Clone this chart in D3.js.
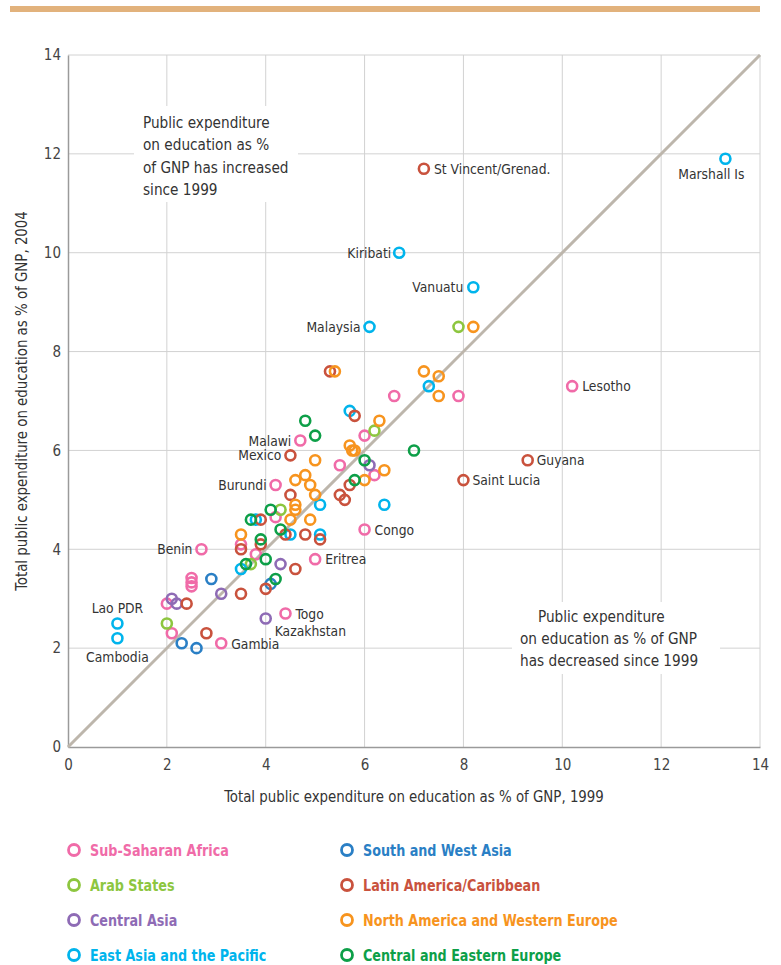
<!DOCTYPE html>
<html><head><meta charset="utf-8">
<script src="https://cdn.jsdelivr.net/npm/d3@7"></script>
<style>
body{margin:0;background:#fff;}
svg{display:block;}
text{font-family:"Liberation Sans Narrow","DejaVu Sans Condensed","Roboto Condensed",sans-serif;}
</style></head>
<body><svg id="c" width="781" height="965"></svg>
<script>
// ---- data ----
const regions = ["Sub-Saharan Africa","Arab States","Central Asia","East Asia and the Pacific",
  "South and West Asia","Latin America/Caribbean","North America and Western Europe","Central and Eastern Europe"];
const regionColors = ["#f06ba8","#8dc63f","#8e6bb5","#00b4ec","#2a7fc5","#c9523d","#f7941e","#0d9f48"];
const xTicks = [0,2,4,6,8,10,12,14];
const yTicks = [0,2,4,6,8,10,12,14];

// [x 1999, y 2004, label]
const subSaharanAfrica = [[10.2,7.3,"Lesotho"],[6.0,4.4,"Congo"],[5.0,3.8,"Eritrea"],[4.4,2.7,"Togo"],
  [3.1,2.1,"Gambia"],[2.7,4.0,"Benin"],[4.2,5.3,"Burundi"],[4.7,6.2,"Malawi"],
  [7.9,7.1],[6.6,7.1],[6.0,6.3],[5.5,5.7],[6.2,5.5],[4.2,4.65],[3.5,4.1],[3.8,3.9],
  [2.5,3.42],[2.5,3.33],[2.5,3.25],[2.0,2.9],[2.1,2.3]];
const arabStates = [[7.9,8.5],[6.2,6.4],[4.3,4.8],[3.7,3.7],[2.0,2.5]];
const centralAsia = [[4.0,2.6,"Kazakhstan"],[6.1,5.7],[4.3,3.7],[3.1,3.1],[2.1,3.0],[2.2,2.9]];
const eastAsiaPacific = [[13.3,11.9,"Marshall Is"],[6.7,10.0,"Kiribati"],[8.2,9.3,"Vanuatu"],[6.1,8.5,"Malaysia"],
  [1.0,2.5,"Lao PDR"],[1.0,2.2,"Cambodia"],[7.3,7.3],[5.7,6.8],[6.4,4.9],[5.1,4.9],[3.8,4.6],[4.5,4.3],[5.1,4.3],[3.5,3.6]];
const southWestAsia = [[2.9,3.4],[2.3,2.1],[2.6,2.0],[4.1,3.3]];
const latinAmerica = [[7.2,11.7,"St Vincent/Grenad."],[9.3,5.8,"Guyana"],[8.0,5.4,"Saint Lucia"],[4.5,5.9,"Mexico"],
  [5.3,7.6],[5.8,6.7],[5.7,5.3],[5.5,5.1],[5.6,5.0],[4.5,5.1],[3.9,4.6],[4.4,4.3],[4.8,4.3],[5.1,4.2],
  [3.5,4.0],[3.9,4.1],[4.6,3.6],[3.5,3.1],[4.0,3.2],[2.4,2.9],[2.8,2.3]];
const northAmericaWEurope = [[8.2,8.5],[5.4,7.6],[7.2,7.6],[7.5,7.5],[7.5,7.1],[6.3,6.6],[5.7,6.1],[5.75,6.0],[5.8,6.0],
  [5.0,5.8],[6.4,5.6],[6.0,5.4],[4.6,5.4],[4.8,5.5],[4.9,5.3],[5.0,5.1],[4.6,4.9],[4.6,4.8],[4.5,4.6],[4.9,4.6],[3.5,4.3]];
const centralEasternEurope = [[4.8,6.6],[5.0,6.3],[7.0,6.0],[6.0,5.8],[5.8,5.4],[4.1,4.8],[3.7,4.6],[4.3,4.4],
  [3.9,4.2],[4.0,3.8],[3.6,3.7],[4.2,3.4]];
const seriesData = [subSaharanAfrica,arabStates,centralAsia,eastAsiaPacific,southWestAsia,latinAmerica,northAmericaWEurope,centralEasternEurope];

const annotationUp = ["Public expenditure","on education as %","of GNP has increased","since 1999"];
const annotationDown = ["Public expenditure","on education as % of GNP","has decreased since 1999"];
const xTitle = "Total public expenditure on education as % of GNP, 1999";
const yTitle = "Total public expenditure on education as % of GNP, 2004";

// ---- label placement (layout, not data) ----
const labelPlace = {
  "Lesotho":{a:"start",dx:10,dy:5}, "Congo":{a:"start",dx:10,dy:5}, "Eritrea":{a:"start",dx:10,dy:5},
  "Togo":{a:"start",dx:10,dy:5}, "Gambia":{a:"start",dx:10,dy:6}, "Benin":{a:"end",dx:-9,dy:5},
  "Burundi":{a:"end",dx:-9,dy:5}, "Malawi":{a:"end",dx:-9,dy:5}, "Mexico":{a:"end",dx:-9,dy:5},
  "Kazakhstan":{a:"start",dx:9,dy:18}, "Marshall Is":{a:"end",dx:19,dy:20}, "Kiribati":{a:"end",dx:-8,dy:5},
  "Vanuatu":{a:"end",dx:-10,dy:5}, "Malaysia":{a:"end",dx:-9,dy:5}, "Lao PDR":{a:"middle",dx:0,dy:-10},
  "Cambodia":{a:"middle",dx:0,dy:24}, "St Vincent/Grenad.":{a:"start",dx:10,dy:5},
  "Guyana":{a:"start",dx:9,dy:5}, "Saint Lucia":{a:"start",dx:9,dy:5}
};

// condensed text helper
function ctext(g, px, py, str, o){
  const t = g.append("text")
    .attr("transform",`translate(${px},${py})${o.rot?` rotate(${o.rot})`:""} scale(${o.sx||1},1)`)
    .attr("text-anchor",o.anchor||"start").attr("font-size",o.size||15)
    .attr("fill",o.fill||"#333").text(str);
  if(o.bold) t.attr("font-weight","bold");
  return t;
}

// ---- chart ----
const svg = d3.select("#c");
const x = d3.scaleLinear().domain([0,14]).range([68,760]);
const y = d3.scaleLinear().domain([0,14]).range([747,55]);

svg.append("rect").attr("x",10).attr("y",6).attr("width",750).attr("height",6).attr("fill","#e2b27c");

const grid = svg.append("g");
grid.selectAll(".gx").data(xTicks.filter(d=>d>0)).join("line")
  .attr("x1",d=>x(d)).attr("x2",d=>x(d)).attr("y1",y(0)).attr("y2",y(14))
  .attr("stroke","#d2d2d2").attr("stroke-width",1);
grid.selectAll(".gy").data(yTicks.filter(d=>d>0)).join("line")
  .attr("x1",x(0)).attr("x2",x(14)).attr("y1",d=>y(d)).attr("y2",d=>y(d))
  .attr("stroke","#d2d2d2").attr("stroke-width",1);

// annotation backgrounds
svg.append("rect").attr("x",134).attr("y",106).attr("width",164).attr("height",96).attr("fill","#fff");
svg.append("rect").attr("x",512).attr("y",602).attr("width",208).attr("height",72).attr("fill","#fff");

// axes
const ax = svg.append("g").attr("transform",`translate(0,${y(0)})`)
  .call(d3.axisBottom(x).tickValues(xTicks).tickSize(0).tickPadding(12));
const ay = svg.append("g").attr("transform",`translate(${x(0)},0)`)
  .call(d3.axisLeft(y).tickValues(yTicks).tickSize(0).tickPadding(7));
[ax,ay].forEach(g=>{
  g.select(".domain").attr("stroke","#9a9a9a").attr("stroke-width",1.5);
  g.selectAll("text").attr("font-size",15).attr("fill","#444")
   .attr("font-family",'"Liberation Sans Narrow","DejaVu Sans Condensed",sans-serif');
});

// diagonal
svg.append("line").attr("x1",x(0)).attr("y1",y(0)).attr("x2",x(14)).attr("y2",y(14))
  .attr("stroke","#bdb6ac").attr("stroke-width",3);

// points
const pts = svg.append("g");
seriesData.forEach((arr,i)=>{
  pts.selectAll(null).data(arr).join("circle")
    .attr("cx",d=>x(d[0])).attr("cy",d=>y(d[1])).attr("r",5)
    .attr("fill","none").attr("stroke",regionColors[i]).attr("stroke-width",2.6);
});

// labels
const labs = svg.append("g");
seriesData.forEach(arr=>{
  arr.filter(d=>d[2]).forEach(d=>{
    const p = labelPlace[d[2]];
    ctext(labs, x(d[0])+p.dx, y(d[1])+p.dy, d[2], {anchor:p.a, size:14.5, sx:0.95, fill:"#333"});
  });
});

// annotations
const an = svg.append("g");
annotationUp.forEach((s,i)=>ctext(an,143,128+i*22.3,s,{size:16.5,sx:0.92}));
annotationDown.forEach((s,i)=>ctext(an,i===0?538:520,622+i*22,s,{size:16.5,sx:0.92}));

// axis titles
ctext(svg,(x(0)+x(14))/2,802,xTitle,{anchor:"middle",size:16.5,sx:0.9});
ctext(svg,27,(y(0)+y(14))/2,yTitle,{anchor:"middle",size:16.5,sx:0.9,rot:-90});

// legend
const leg = svg.append("g");
regions.forEach((r,i)=>{
  const col = i<4?0:1, row = i%4;
  const lx = col===0?74:347, ly = 850+row*35;
  leg.append("circle").attr("cx",lx).attr("cy",ly).attr("r",5.5).attr("fill","none")
    .attr("stroke",regionColors[i]).attr("stroke-width",2.8);
  ctext(leg, lx+16, ly+6, r, {size:16.5, sx:0.86, bold:true, fill:regionColors[i]});
});
</script></body></html>
